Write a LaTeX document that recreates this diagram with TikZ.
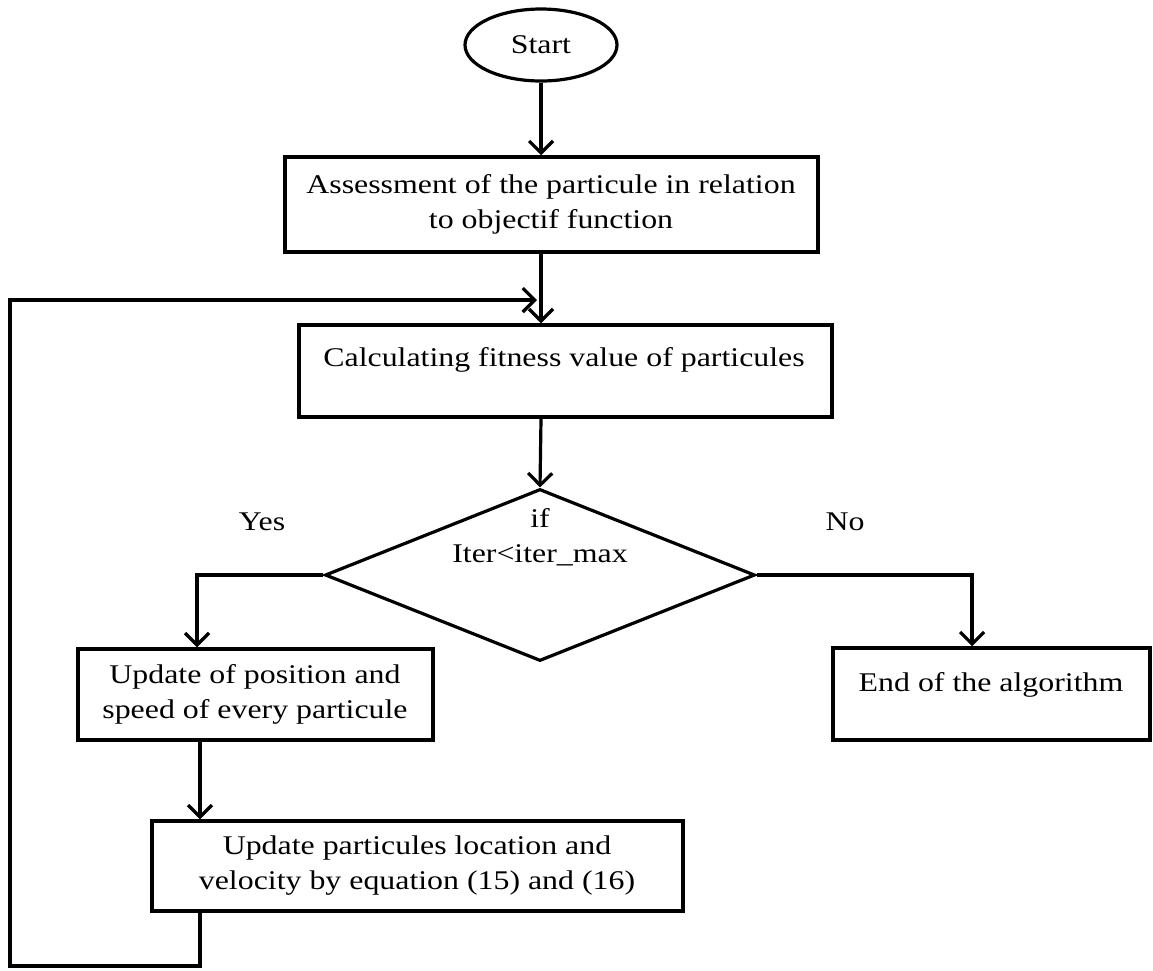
\documentclass[tikz,border=0pt]{standalone}
\usepackage{fontspec}
\setmainfont{Liberation Serif}[FakeStretch=1.18]
\usetikzlibrary{arrows.meta,shapes.geometric}
\begin{document}
\begin{tikzpicture}[x=1pt,y=-1pt,
  every node/.style={font=\fontsize{27}{35}\selectfont, text=black},
  box/.style={draw, line width=3.5pt, inner sep=0pt},
  lbl/.style={align=center, inner sep=0pt},
  conn/.style={line width=3.2pt, -{Straight Barb[length=12pt,width=24pt]}},
  wire/.style={line width=3.2pt}]
\useasboundingbox (0,0) rectangle (1153,970);
\coordinate (colm) at (541,0);
\coordinate (colL) at (197,0);
\coordinate (colR) at (972,0);
\coordinate (colL2) at (200,0);
\coordinate (loopx) at (10,0);
\coordinate (loopy) at (0,300);
\coordinate (loopb) at (0,966);
\coordinate (loopend) at (537,300);

\node[draw, ellipse, line width=3.2pt, minimum width=152pt, minimum height=72pt, inner sep=0pt] (start) at (541,45) {Start};

\node[box, minimum width=533pt, minimum height=95pt] (b1) at (551.5,204.5) {};
\node[lbl] (b1t) at (551,204) {Assessment of the particule in relation\\to objectif function};

\node[box, minimum width=533pt, minimum height=92pt] (b2) at (565.5,371) {};
\node[lbl] (b2t) at (564,360) {Calculating fitness value of particules};

\node[draw, diamond, line width=3.2pt, minimum width=430pt, minimum height=172pt, inner sep=0pt] (dia) at (540,575) {};
\node[lbl] (diat) at (540,537) {if\\Iter<iter\_max};

\node (yes) at (262,522) {Yes};
\node (no) at (845,522) {No};

\node[box, minimum width=355pt, minimum height=91pt] (b3) at (255.5,694.5) {};
\node[lbl] (b3t) at (255,694) {Update of position and\\speed of every particule};

\node[box, minimum width=317pt, minimum height=92pt] (b4) at (991.5,694) {};
\node[lbl] (b4t) at (991,685) {End of the algorithm};

\node[box, minimum width=531pt, minimum height=90pt] (b5) at (417.5,866) {};
\node[lbl] (b5t) at (417,866) {Update particules location and\\velocity by equation (15) and (16)};

\draw[conn] (start.south) -- (colm |- b1.north);
\draw[conn] (b1.south -| colm) -- (b2.north -| colm);
\draw[conn] (b2.south -| colm) -- (dia.north);
\draw[conn] (dia.west) -| (b3.north -| colL);
\draw[conn] (dia.east) -| (b4.north -| colR);
\draw[conn] (b3.south -| colL2) -- (b5.north -| colL2);
\draw[conn] (b5.south -| colL2) -- (colL2 |- loopb) -- (loopx |- loopb) -- (loopx |- loopy) -- (loopend);
\end{tikzpicture}
\end{document}
